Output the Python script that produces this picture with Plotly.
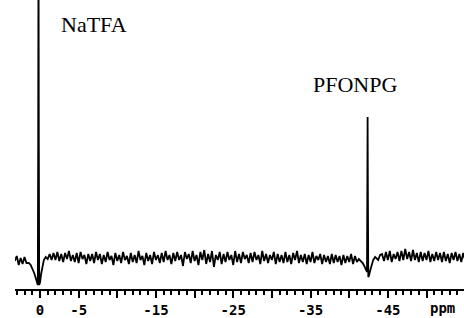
import plotly.graph_objects as go

# ---- data ----
# baseline samples, one every 0.25 ppm starting at +3.25 ppm (arbitrary intensity units)
baseline_start_ppm = 3.25
baseline_step_ppm = 0.25
baseline_intensity = [
    -1, 4, -5, 2, -4, 3, -3, 0, -3, -5,
    0, 0, 0, 0, 0, 0, 0, 0, 6, 0,
    7, 0, 8, -1, 6, -2, 7, 1, 9, -1,
    5, -2, 7, -3, 8, 1, 5, -4, 6, -1,
    6, -3, 8, 0, 6, -4, 5, -2, 8, 0,
    4, -5, 7, -1, 5, -3, 8, 0, 4, -4,
    7, -2, 5, -3, 9, 0, 4, -5, 7, -1,
    5, -4, 8, 0, 5, -3, 7, -2, 9, 0,
    5, -4, 7, -1, 8, 0, 5, -6, 8, 1,
    6, -3, 9, -1, 5, -5, 8, 0, 10, -4,
    6, -2, 9, -7, 5, 0, 8, -4, 6, -2,
    8, 0, 5, -5, 9, -2, 6, -3, 8, 1,
    5, -3, 7, -2, 8, 0, 5, -4, 9, -1,
    6, -3, 5, 0, 8, -4, 6, -2, 5, -3,
    8, -2, 5, -4, 7, 0, 9, -3, 5, -2,
    6, -4, 5, -2, 8, -3, 4, 0, 6, -4,
    5, -2, 4, -4, 6, -3, 5, -2, 4, -5,
    5, -3, 4, -2, 6, -4, 4, -2, 5, -3,
    1, 0, 0, 0, 0, 0, 0, 0, 0, 5,
    6, -1, 8, 0, 9, -2, 6, 1, 8, -1,
    9, 0, 11, 1, 8, -1, 10, 0, 7, -2,
    8, -1, 7, 0, 9, -2, 6, -1, 8, 0,
    7, -2, 8, -1, 6, -3, 7, 0, 8, -1,
    6, -2, 7, 0,
]

# NaTFA reference signal (with the surrounding negative dip)
natfa_ppm = [1.45, 1.2, 0.95, 0.75, 0.55, 0.4, 0.28, 0.23, 0.19, 0.15, 0.1,
             -0.02, -0.15, -0.3, -0.5, -0.75, -1.0]
natfa_intensity = [-3, -5, -9, -13, -18, -23, -25, 120, 330, 120, -25,
                   -22, -14, -6, 0, 3, 1]

# PFONPG signal
pfonpg_ppm = [-41.25, -41.5, -41.75, -41.95, -42.1, -42.22, -42.3, -42.34, -42.38,
              -42.42, -42.47, -42.55, -42.7, -42.9, -43.1, -43.35, -43.55]
pfonpg_intensity = [1, -1, -3, -6, -9, -11, -12, 60, 143,
                    60, -17, -16, -11, -5, 0, 3, 1]

peak_labels = ["NaTFA", "PFONPG"]
peak_label_ppm = [-6.99, -40.69]
peak_label_intensity = [236, 176]

tick_values = [0, -5, -10, -15, -20, -25, -30, -35, -40, -45, -50]
tick_labels = ["0", "-5", "", "-15", "", "-25", "", "-35", "", "-45", ""]
unit_label = "ppm"
unit_label_ppm = -50.2

# ---- assemble the trace ----
def in_window(p, ppms):
    return min(ppms) - 0.1 <= p <= max(ppms) + 0.1

points = []
for i, v in enumerate(baseline_intensity):
    p = baseline_start_ppm - baseline_step_ppm * i
    if in_window(p, natfa_ppm) or in_window(p, pfonpg_ppm):
        continue
    points.append((p, v))
points += list(zip(natfa_ppm, natfa_intensity))
points += list(zip(pfonpg_ppm, pfonpg_intensity))
points.sort(key=lambda t: -t[0])
xs = [p for p, _ in points]
ys = [v for _, v in points]

fig = go.Figure()
fig.add_trace(go.Scatter(x=xs, y=ys, mode="lines",
                         line=dict(color="black", width=1.8),
                         hoverinfo="skip", showlegend=False))

for text, xp, yp in zip(peak_labels, peak_label_ppm, peak_label_intensity):
    fig.add_annotation(x=xp, y=yp, xref="x", yref="y", text=text, showarrow=False,
                       xanchor="center", yanchor="middle",
                       font=dict(family="Liberation Serif", size=22, color="black"))

fig.add_annotation(x=unit_label_ppm, y=-0.065, xref="x", yref="paper", text=unit_label,
                   showarrow=False, xanchor="left", yanchor="middle",
                   font=dict(family="DejaVu Sans Mono", size=14, color="black", weight="bold"))

fig.update_layout(
    template="none",
    width=464, height=318,
    margin=dict(l=15, r=0, t=0, b=29, pad=0),
    paper_bgcolor="white", plot_bgcolor="white",
    showlegend=False,
    xaxis=dict(
        range=[3.23, -54.85], automargin=False,
        showline=True, linecolor="black", linewidth=2,
        showgrid=False, zeroline=False,
        tickmode="array", tickvals=tick_values, ticktext=tick_labels,
        ticks="outside", ticklen=7, tickwidth=1.5, tickcolor="black",
        ticklabelstandoff=0,
        tickfont=dict(family="DejaVu Sans Mono", size=14, color="black", weight="bold"),
        minor=dict(tickmode="linear", tick0=0, dtick=1, ticks="outside",
                   ticklen=4, tickwidth=1.5, tickcolor="black", showgrid=False),
        fixedrange=True,
    ),
    yaxis=dict(range=[-29, 260], visible=False, showgrid=False, zeroline=False,
               automargin=False, fixedrange=True),
)

fig.write_html("out.html", config={"displayModeBar": False},
               post_script="document.body.style.margin='0';document.body.style.overflow='hidden';")
